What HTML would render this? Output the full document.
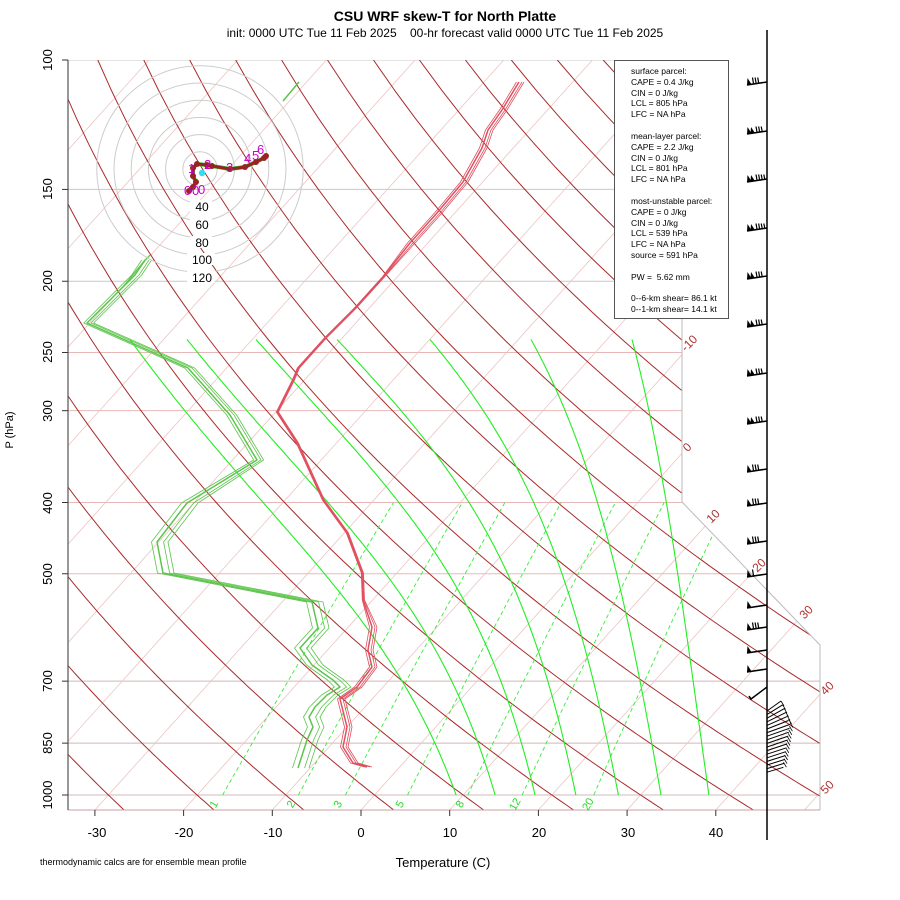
<!DOCTYPE html>
<html><head><meta charset="utf-8"><style>
body{margin:0;background:#fff}
svg{display:block;font-family:"Liberation Sans",sans-serif}
</style></head><body>
<svg id="s" width="900" height="900" viewBox="0 0 900 900" xmlns="http://www.w3.org/2000/svg">
<defs><clipPath id="c"><polygon points="68,60 682,60 682,502 820,645 820,810 68,810"/></clipPath></defs>
<g id="bg" clip-path="url(#c)"></g>
<polyline points="682,60 682,502 820,645 820,810" fill="none" stroke="#bbb" stroke-width="1"/>
<line x1="68" y1="810" x2="820" y2="810" stroke="#c9a0a0"/>
<g id="snd"></g>
<g id="hodo"></g>
<line x1="68" y1="60" x2="68" y2="810" stroke="#555" stroke-width="1.2"/>
<g id="ticks" stroke="#333"></g>
<g font-size="13" fill="#000" text-anchor="middle">
<text transform="translate(52,60) rotate(-90)">100</text>
<text transform="translate(52,189) rotate(-90)">150</text>
<text transform="translate(52,281) rotate(-90)">200</text>
<text transform="translate(52,352) rotate(-90)">250</text>
<text transform="translate(52,411) rotate(-90)">300</text>
<text transform="translate(52,503) rotate(-90)">400</text>
<text transform="translate(52,574) rotate(-90)">500</text>
<text transform="translate(52,681) rotate(-90)">700</text>
<text transform="translate(52,743) rotate(-90)">850</text>
<text transform="translate(52,795) rotate(-90)">1000</text>
<text x="97" y="837">-30</text><text x="184" y="837">-20</text><text x="273" y="837">-10</text>
<text x="361" y="837">0</text><text x="450" y="837">10</text><text x="539" y="837">20</text>
<text x="628" y="837">30</text><text x="716" y="837">40</text>
</g>
<g font-size="12" fill="#b03030" text-anchor="middle">
<text transform="translate(692,346) rotate(-45)">-10</text>
<text transform="translate(690,450) rotate(-45)">0</text>
<text transform="translate(716,519) rotate(-45)">10</text>
<text transform="translate(762,568) rotate(-45)">20</text>
<text transform="translate(809,615) rotate(-45)">30</text>
<text transform="translate(830,691) rotate(-45)">40</text>
<text transform="translate(830,790) rotate(-45)">50</text>
</g>
<g font-size="11" fill="#22dd22" text-anchor="middle">
<text transform="translate(217,806) rotate(-60)">1</text>
<text transform="translate(294,806) rotate(-60)">2</text>
<text transform="translate(341,806) rotate(-60)">3</text>
<text transform="translate(403,806) rotate(-60)">5</text>
<text transform="translate(463,806) rotate(-60)">8</text>
<text transform="translate(518,806) rotate(-60)">12</text>
<text transform="translate(591,806) rotate(-60)">20</text>
</g>
<text x="445" y="21" font-size="14" font-weight="bold" text-anchor="middle">CSU WRF skew-T for North Platte</text>
<text x="445" y="37" font-size="12" text-anchor="middle" xml:space="preserve">init: 0000 UTC Tue 11 Feb 2025    00-hr forecast valid 0000 UTC Tue 11 Feb 2025</text>
<text transform="translate(13,430) rotate(-90)" font-size="11" text-anchor="middle">P (hPa)</text>
<text x="443" y="867" font-size="13" text-anchor="middle">Temperature (C)</text>
<text x="40" y="865" font-size="9">thermodynamic calcs are for ensemble mean profile</text>
<rect x="614.5" y="60.5" width="114" height="258" fill="#fff" stroke="#555"/>
<g font-size="8.5" fill="#000">
<text x="631" y="74">surface parcel:</text>
<text x="631" y="85">CAPE = 0.4 J/kg</text>
<text x="631" y="96">CIN = 0 J/kg</text>
<text x="631" y="106">LCL = 805 hPa</text>
<text x="631" y="117">LFC = NA hPa</text>
<text x="631" y="139">mean-layer parcel:</text>
<text x="631" y="150">CAPE = 2.2 J/kg</text>
<text x="631" y="161">CIN = 0 J/kg</text>
<text x="631" y="171">LCL = 801 hPa</text>
<text x="631" y="182">LFC = NA hPa</text>
<text x="631" y="204">most-unstable parcel:</text>
<text x="631" y="215">CAPE = 0 J/kg</text>
<text x="631" y="226">CIN = 0 J/kg</text>
<text x="631" y="236">LCL = 539 hPa</text>
<text x="631" y="247">LFC = NA hPa</text>
<text x="631" y="258">source = 591 hPa</text>
<text x="631" y="280" xml:space="preserve">PW =  5.62 mm</text>
<text x="631" y="301">0--6-km shear= 86.1 kt</text>
<text x="631" y="312">0--1-km shear= 14.1 kt</text>
</g>
<line x1="767" y1="30" x2="767" y2="840" stroke="#000" stroke-width="1.5"/>
<g id="barbs"></g>
<g font-size="12" text-anchor="middle" fill="#000">
<rect x="190" y="200" width="22" height="12" fill="#fff"/><text x="202" y="211">40</text>
<rect x="190" y="218" width="22" height="12" fill="#fff"/><text x="202" y="229">60</text>
<rect x="190" y="236" width="22" height="12" fill="#fff"/><text x="202" y="247">80</text>
<rect x="187" y="253" width="28" height="12" fill="#fff"/><text x="202" y="264">100</text>
<rect x="187" y="271" width="28" height="12" fill="#fff"/><text x="202" y="282">120</text>
</g>
<g id="hlab" font-size="13" fill="#cc00cc">
<text x="188" y="173">1</text><text x="204" y="169">2</text><text x="226" y="172">3</text>
<text x="244" y="163">4</text><text x="252" y="160">5</text><text x="257" y="154">6</text>
<text x="184" y="195">0</text><text x="192" y="195">0</text><text x="198" y="194">0</text>
</g>
</svg>
<script>
var NS="http://www.w3.org/2000/svg";
function Y(p){return 795-735*Math.log10(1000/p);}
function X(T,y){return 361+8.87*T+0.9*(810-y);}
function add(g,tag,at){var e=document.createElementNS(NS,tag);for(var k in at)e.setAttribute(k,at[k]);document.getElementById(g).appendChild(e);return e;}
function pl(g,pts,st,w,extra){var a={points:pts.map(function(q){return q[0].toFixed(1)+","+q[1].toFixed(1)}).join(" "),fill:"none",stroke:st,"stroke-width":w,"stroke-linejoin":"round"};for(var k in extra)a[k]=extra[k];return add(g,"polyline",a);}
[[100,"#c8c8c8"],[150,"#c8c8c8"],[200,"#c8c8c8"],[250,"#e8b8b8"],[300,"#e8b8b8"],[400,"#e8b8b8"],[500,"#e8b8b8"],[700,"#d0b8b8"],[850,"#d0b8b8"],[1000,"#d0b8b8"]].forEach(function(a){var y=Y(a[0]);add("bg","line",{x1:68,y1:y,x2:820,y2:y,stroke:a[1],"stroke-width":1});
add("ticks","line",{x1:62,y1:y,x2:68,y2:y});});
for(var T=-130;T<=60;T+=10){add("bg","line",{x1:X(T,810),y1:810,x2:X(T,60),y2:60,stroke:"#ecc4c4","stroke-width":0.8});}
for(var th=-40;th<=260;th+=10){var pts=[];for(var p=1060;p>=95;p-=10){var Tk=(th+273.15)*Math.pow(p/1000,0.2857);var y=Y(p);pts.push([X(Tk-273.15,y),y]);}pl("bg",pts,"#aa2a2a",1);}
[1,2,3,5,8,12,20].forEach(function(w){var pts=[];for(var p=1000;p>=400;p-=10){var e=w*p/(622+w);var l=Math.log(e/6.112);var Td=243.5*l/(17.67-l);var y=Y(p);pts.push([X(Td,y),y]);}pl("bg",pts,"#33ee33",0.9,{"stroke-dasharray":"4,3"});});
function es(Tc){return 6.112*Math.exp(17.67*Tc/(Tc+243.5));}
// [bottom T at 1000, target top x at 240hPa]
[[9.2,130],[13.6,187],[18.1,256],[22.7,337],[27.5,430],[32.3,531],[37.7,632]].forEach(function(c){var T=c[0]+273.15,pts=[];for(var p=1000;p>=240;p-=2){var y=Y(p);pts.push([X(T-273.15,y),y]);var e=es(T-273.15),rs=0.622*e/(p-e);var d=(287*T+2.5e6*rs)/(p*(1005+2.5e6*2.5e6*rs*0.622/(287*T*T)));T-=d*2;}
var y0=pts[0][1],yt=pts[pts.length-1][1],dx=c[1]-pts[pts.length-1][0];
pts=pts.map(function(q){var f=(q[1]-y0)/(yt-y0);return [q[0]+dx*f,q[1]];});
pl("bg",pts,"#22ee22",1.1);});
for(var T=-30;T<=40;T+=10){var x=361+8.87*T;add("ticks","line",{x1:x,y1:810,x2:x,y2:816});}
var tp=[[519,82],[502,110],[488,130],[482,148],[463,182],[437,213],[410,243],[383,277],[355,308],[325,338],[298,368],[293,380],[277,412],[297,443],[323,500],[347,533],[362,573],[363,600],[372,627],[368,650],[372,667],[357,687],[340,699],[347,727],[343,747],[353,763],[367,767]];
var td=[[298,768],[307,740],[313,727],[309,717],[315,707],[327,695],[340,687],[333,680],[323,673],[312,665],[300,648],[318,628],[312,602],[163,573],[157,542],[187,503],[257,460],[230,415],[188,368],[132,343],[87,323],[135,275],[145,260]];
var offs=[[0,1.5],[3,0.8],[-2.5,0.8],[5,0.8]];
offs.forEach(function(o,i){
pl("snd",tp.map(function(q){var f=(q[1]>600||q[1]<250)?1:0.3;return [q[0]+o[0]*f,q[1]];}),"#e05060",o[1]);
pl("snd",td.map(function(q){var f=(q[1]>500)?1:0.6;return [q[0]+o[0]*f*2.2,q[1]];}),"#5cc44c",o[1]);});
pl("snd",[[283,101],[299,82]],"#5cc44c",1.5);
pl("snd",[[123,287],[145,260],[150,255]],"#5cc44c",1.2);
for(var k=1;k<=6;k++)add("hodo","circle",{cx:200,cy:169,r:17.2*k,fill:"none",stroke:"#cccccc","stroke-width":1});
var hp=[[189,191],[193,187],[196,182],[193,176],[193,168],[197,164],[207,165],[212,166],[230,169],[245,167],[256,162],[264,158],[266,156]];
pl("hodo",hp,"#22cc22",4);pl("hodo",hp,"#992222",3);
hp.forEach(function(q){add("hodo","circle",{cx:q[0],cy:q[1],r:3,fill:"#992222"});});
add("hodo","circle",{cx:202,cy:173,r:3.2,fill:"#33ddee"});
function barb(y,nf,n){var x0=747,y0=y+3;add("barbs","line",{x1:767,y1:y,x2:x0,y2:y0,stroke:"#000","stroke-width":1.6});
for(var f=0;f<nf;f++){var xf=x0+f*3.5;add("barbs","polygon",{points:xf+","+(y0-0.2*f)+" "+(xf+4.5)+","+(y0-0.7-0.2*f)+" "+(xf+0.5)+","+(y0-7),fill:"#000"});}
for(var i=0;i<n;i++){var xx=x0+nf*3.5+3+i*2.6;add("barbs","line",{x1:xx,y1:y0-0.9-i*0.3-nf*0.5,x2:xx-1,y2:y0-7.5,stroke:"#000","stroke-width":1.2});}}
[[82,1,3],[131,2,3],[179,2,4],[228,2,4],[276,2,3],[324,2,3],[373,2,3],[421,2,3],[469,1,3],[503,1,3],[541,1,3],[574,1,1],[605,1,0],[627,1,3],[650,1,0],[669,1,0]].forEach(function(b){barb(b[0],b[1],b[2]);});
add("barbs","polyline",{points:"767,687 751,699 749,696",fill:"none",stroke:"#000","stroke-width":1.5});
for(var i=0;i<18;i++){var y=703+i*3.6;var x2=781+(i<6?i*1.5:9-(i-6)*0.6);add("barbs","line",{x1:767,y1:y+8,x2:x2,y2:y-2+i*0.3,stroke:"#000","stroke-width":1});add("barbs","line",{x1:x2,y1:y-2,x2:x2+3,y2:y+3,stroke:"#000","stroke-width":0.8});}
</script>
</body></html>
